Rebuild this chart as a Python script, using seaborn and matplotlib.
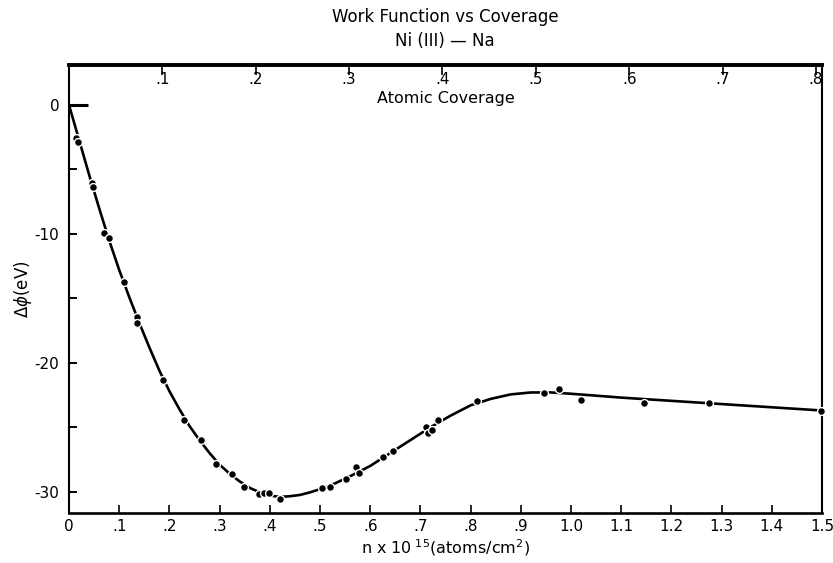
import matplotlib
matplotlib.use("Agg")
import matplotlib.pyplot as plt
import seaborn as sns
import pandas as pd
import numpy as np

# measured points: n x 10^15 (atoms/cm^2) vs delta phi
pts_n = [0.014, 0.018, 0.045, 0.048, 0.070, 0.080, 0.110, 0.135, 0.136, 0.188,
         0.230, 0.263, 0.293, 0.325, 0.349, 0.378, 0.388, 0.398, 0.420,
         0.503, 0.520, 0.551, 0.571, 0.578, 0.626, 0.645,
         0.711, 0.716, 0.723, 0.735, 0.813, 0.946, 0.977, 1.020, 1.145, 1.275, 1.499]
pts_phi = [-2.6, -2.9, -6.05, -6.35, -9.9, -10.35, -13.7, -16.45, -16.9, -21.3,
           -24.4, -26.0, -27.85, -28.6, -29.6, -30.15, -30.1, -30.1, -30.55,
           -29.7, -29.65, -29.0, -28.1, -28.55, -27.3, -26.85,
           -25.0, -25.45, -25.2, -24.45, -23.0, -22.35, -22.05, -22.85, -23.1, -23.1, -23.75]

# smooth curve
curve_n = [0.0, 0.02, 0.04, 0.06, 0.08, 0.10, 0.12, 0.14, 0.16, 0.18, 0.20, 0.22,
           0.24, 0.26, 0.28, 0.30, 0.32, 0.34, 0.36, 0.38, 0.40, 0.42, 0.44, 0.46,
           0.48, 0.50, 0.53, 0.56, 0.60, 0.64, 0.68, 0.72, 0.76, 0.80, 0.84, 0.88,
           0.92, 0.96, 1.00, 1.10, 1.20, 1.30, 1.40, 1.50]
curve_phi = [0.0, -2.7, -5.4, -8.0, -10.5, -12.8, -14.9, -16.9, -18.8, -20.6, -22.2, -23.6,
             -24.9, -26.0, -27.0, -27.9, -28.6, -29.2, -29.7, -30.05, -30.3, -30.4, -30.35, -30.25,
             -30.05, -29.8, -29.35, -28.8, -28.0, -27.0, -26.0, -25.0, -24.1, -23.3, -22.8, -22.45,
             -22.3, -22.3, -22.4, -22.7, -22.95, -23.2, -23.45, -23.7]

x_ticks = [0, 0.1, 0.2, 0.3, 0.4, 0.5, 0.6, 0.7, 0.8, 0.9, 1.0, 1.1, 1.2, 1.3, 1.4, 1.5]
x_labels = ["0", ".1", ".2", ".3", ".4", ".5", ".6", ".7", ".8", ".9",
            "1.0", "1.1", "1.2", "1.3", "1.4", "1.5"]
y_ticks = [0, -10, -20, -30]
y_labels = ["0", "-10", "-20", "-30"]
y_minor = [-5, -15, -25]
cov_ticks = [0.1, 0.2, 0.3, 0.4, 0.5, 0.6, 0.7, 0.8]
cov_labels = [".1", ".2", ".3", ".4", ".5", ".6", ".7", ".8"]
n_monolayer = 1.86

sns.set_theme(style="white")
plt.rcParams['font.family'] = ['DejaVu Sans']
plt.rcParams['text.color'] = 'black'
plt.rcParams['axes.labelcolor'] = 'black'
plt.rcParams['xtick.color'] = 'black'
plt.rcParams['ytick.color'] = 'black'

fig = plt.figure(figsize=(8.33, 5.63), dpi=100)
ax = fig.add_axes([69/833, 50/563, (822-69)/833, (513-65)/563])

curve = pd.DataFrame({"n": curve_n, "phi": curve_phi})
pts = pd.DataFrame({"n": pts_n, "phi": pts_phi})
sns.lineplot(data=curve, x="n", y="phi", ax=ax, color="black", lw=1.9,
             sort=False, estimator=None)
sns.scatterplot(data=pts, x="n", y="phi", ax=ax, color="black", s=32,
                edgecolor="white", linewidth=1.0, zorder=5, clip_on=False)

ax.set_xlim(0, 1.5)
ax.set_ylim(-31.65, 3.1)
ax.set_xticks(x_ticks)
ax.set_xticklabels(x_labels, fontsize=11)
ax.set_yticks(y_ticks)
ax.set_yticklabels(y_labels, fontsize=11)
ax.set_yticks(y_minor, minor=True)
ax.tick_params(axis="x", which="major", direction="in", length=6, width=1.2,
               color="black", pad=4, bottom=True, top=False)
ax.tick_params(axis="y", which="both", direction="in", length=6, width=1.4,
               color="black", pad=7, left=True, right=False)
ax.yaxis.get_major_ticks()[0].tick1line.set_markersize(14)
ax.yaxis.get_major_ticks()[0].tick1line.set_markeredgewidth(2.2)

for side, lw in [("left", 1.5), ("bottom", 1.9), ("right", 1.5), ("top", 2.6)]:
    ax.spines[side].set_visible(True)
    ax.spines[side].set_color("black")
    ax.spines[side].set_linewidth(lw)

sec = ax.secondary_xaxis("top", functions=(lambda n: n / n_monolayer,
                                           lambda c: c * n_monolayer))
sec.set_xticks(cov_ticks)
sec.set_xticklabels(cov_labels, fontsize=11)
sec.tick_params(direction="in", length=7, width=1.2, color="black", pad=-16)
sec.spines["top"].set_linewidth(2.6)
sec.spines["top"].set_color("black")

ax.text(0.5, (513-98)/448, "Atomic Coverage", transform=ax.transAxes,
        ha="center", va="center", fontsize=11.5)

ax.set_xlabel(r"n x 10$^{\ 15}$(atoms/cm$^{2}$)", fontsize=11.5, labelpad=3)
ax.set_ylabel(r"$\Delta\phi$(eV)", fontsize=12, labelpad=0)

fig.text(445/833, 1 - 17/563, "Work Function vs Coverage", ha="center",
         va="center", fontsize=12)
fig.text(445/833, 1 - 41/563, "Ni (III) \u2014 Na", ha="center",
         va="center", fontsize=12)

fig.savefig("out.png", dpi=100, facecolor="white")
